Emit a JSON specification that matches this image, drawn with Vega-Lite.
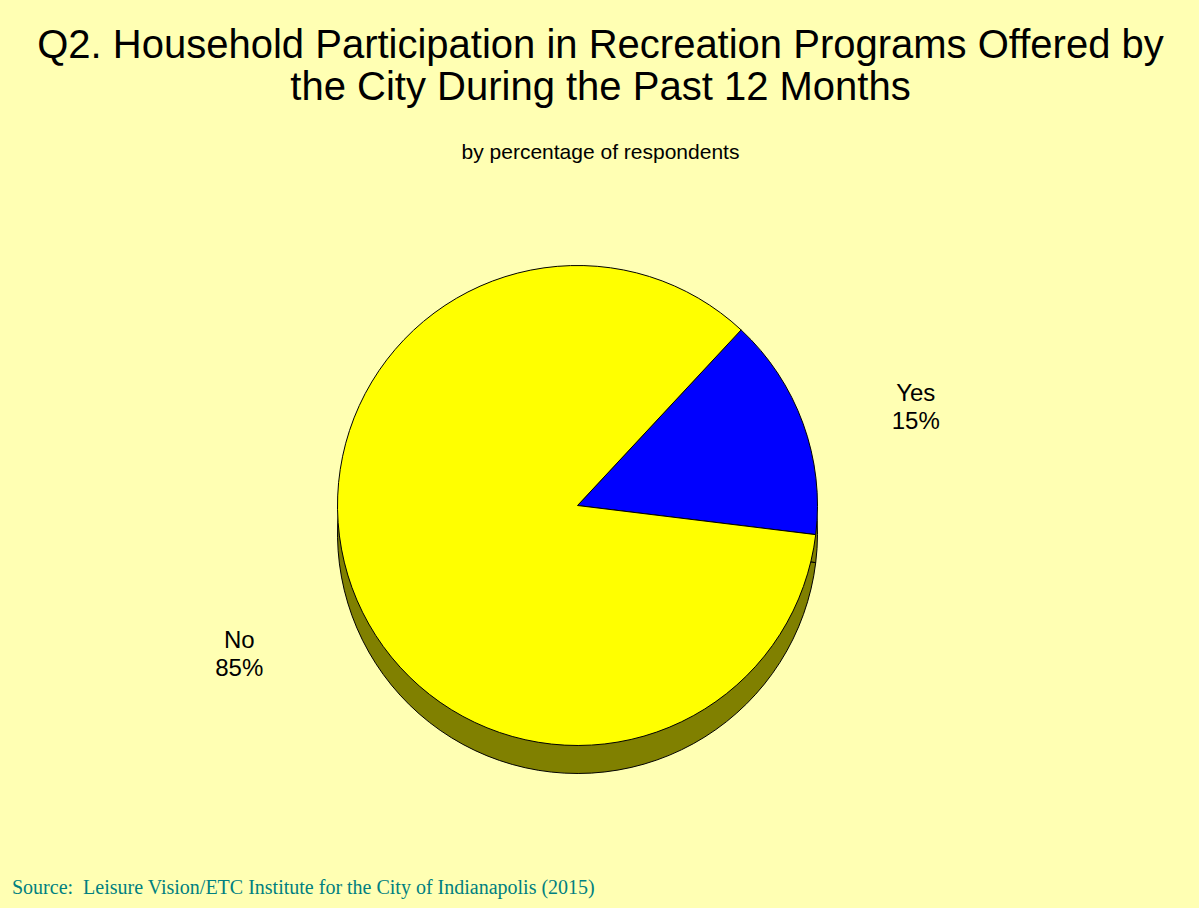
{
  "$schema": "https://vega.github.io/schema/vega-lite/v6.json",
  "background": "#FFFFB3",
  "padding": {"left": 12, "top": 26, "right": 10, "bottom": 10},
  "title": {
    "text": "Source:\u00a0\u00a0Leisure Vision/ETC Institute for the City of Indianapolis (2015)",
    "orient": "bottom",
    "anchor": "start",
    "font": "Liberation Serif",
    "fontSize": 20,
    "fontWeight": "normal",
    "color": "#008080",
    "offset": 8
  },
  "data": {
    "values": [
      {"answer": "Yes", "pct": 15},
      {"answer": "No", "pct": 85}
    ]
  },
  "vconcat": [
    {
      "width": 1177,
      "height": 693,
      "title": {
        "text": ["Q2. Household Participation in Recreation Programs Offered by", "the City During the Past 12 Months"],
        "subtitle": "by percentage of respondents",
        "anchor": "middle",
        "font": "Liberation Sans",
        "fontSize": 40,
        "fontWeight": "normal",
        "lineHeight": 42,
        "color": "#000000",
        "subtitleFont": "Liberation Sans",
        "subtitleFontSize": 21,
        "subtitleColor": "#000000",
        "subtitlePadding": 34,
        "offset": 14
      },
      "transform": [
        {"calculate": "datum.answer + '\\n' + datum.pct + '%'", "as": "label"}
      ],
      "encoding": {
        "theta": {"field": "pct", "type": "quantitative", "stack": true, "scale": {"range": [0.75, 7.0332]}},
        "order": {"field": "answer", "sort": "descending"}
      },
      "layer": [
        {
          "mark": {"type": "arc", "outerRadius": 240, "color": "#808000", "stroke": "#000000", "strokeWidth": 1, "xOffset": -23, "yOffset": 10}
        },
        {
          "mark": {"type": "arc", "outerRadius": 240, "stroke": "#000000", "strokeWidth": 1, "xOffset": -23, "yOffset": -18},
          "encoding": {
            "color": {"field": "answer", "type": "nominal", "scale": {"domain": ["Yes", "No"], "range": ["#0000FF", "#FFFF00"]}, "legend": null}
          }
        },
        {
          "mark": {"type": "text", "radius": 360, "font": "Liberation Sans", "fontSize": 24, "color": "#000000", "lineBreak": "\n", "lineHeight": 28, "xOffset": -23, "yOffset": -6},
          "encoding": {
            "text": {"field": "label", "type": "nominal"}
          }
        }
      ]
    }
  ],
  "config": {"view": {"stroke": null}}
}
